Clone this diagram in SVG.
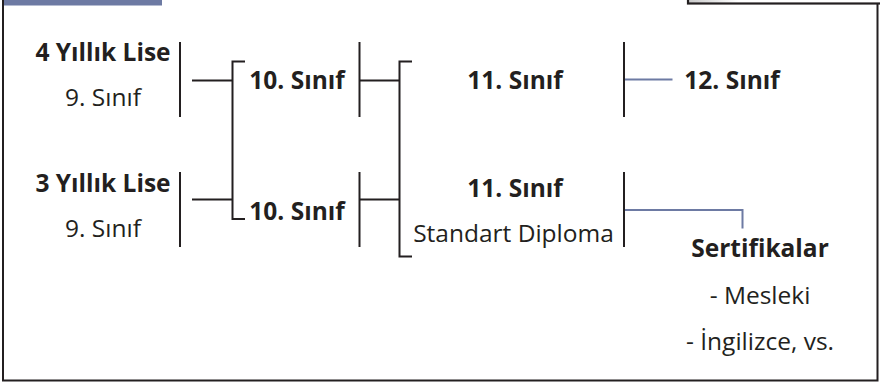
<svg xmlns="http://www.w3.org/2000/svg" width="880" height="383" viewBox="0 0 880 383">
<defs>
<linearGradient id="boxgrad" x1="0" y1="0" x2="1" y2="0">
<stop offset="0" stop-color="#c8c8c8"/>
<stop offset="0.25" stop-color="#ffffff"/>
<stop offset="1" stop-color="#ffffff"/>
</linearGradient>
<style>
text{font-family:"Open Sans","Noto Sans","DejaVu Sans",sans-serif;font-size:24.5px;fill:#231f20;text-anchor:middle}
.b{font-weight:bold}
.ln{fill:none;stroke:#231f20;stroke-width:2}
.bl{fill:none;stroke:#6d7aa3;stroke-width:2}
</style>
</defs>
<rect width="880" height="383" fill="#ffffff"/>
<g id="frame">
<path d="M3,-5 V380.5 H877.5 V-5" fill="none" stroke="#231f20" stroke-width="2"/>
<rect x="4" y="0" width="158" height="5.5" fill="#6d7aa3"/>
<rect x="688" y="-10" width="200" height="13.5" fill="url(#boxgrad)" stroke="#231f20" stroke-width="2.2"/>
</g>
<g id="connectors">
<line class="ln" x1="180" y1="42" x2="180" y2="117"/>
<line class="ln" x1="180" y1="172" x2="180" y2="247"/>
<line class="ln" x1="192" y1="80.5" x2="232.5" y2="80.5"/>
<line class="ln" x1="192" y1="199.5" x2="232.5" y2="199.5"/>
<path class="ln" d="M245,61.5 H232.5 V219 H245"/>
<line class="ln" x1="359.5" y1="42" x2="359.5" y2="117"/>
<line class="ln" x1="359.5" y1="172" x2="359.5" y2="247"/>
<line class="ln" x1="359.5" y1="80.5" x2="399.5" y2="80.5"/>
<line class="ln" x1="359.5" y1="199.5" x2="399.5" y2="199.5"/>
<path class="ln" d="M412,61.5 H399.5 V256.5 H412"/>
<line class="ln" x1="624" y1="42" x2="624" y2="117"/>
<line class="ln" x1="624" y1="172" x2="624" y2="247"/>
<line class="bl" x1="625" y1="79.5" x2="672.5" y2="79.5"/>
<path class="bl" d="M625,210 H742.5 V228.5"/>
</g>
<g id="lise4">
<text class="b" x="103" y="61">4 Yıllık Lise</text>
<text x="103" y="106">9. Sınıf</text>
</g>
<g id="lise3">
<text class="b" x="103" y="192">3 Yıllık Lise</text>
<text x="103" y="237">9. Sınıf</text>
</g>
<g id="sinif10a">
<text class="b" x="297" y="89">10. Sınıf</text>
</g>
<g id="sinif10b">
<text class="b" x="297" y="220">10. Sınıf</text>
</g>
<g id="sinif11a">
<text class="b" x="515" y="89">11. Sınıf</text>
</g>
<g id="sinif11b">
<text class="b" x="515" y="197">11. Sınıf</text>
<text x="513.5" y="242">Standart Diploma</text>
</g>
<g id="sinif12">
<text class="b" x="732" y="89">12. Sınıf</text>
</g>
<g id="sertifikalar">
<text class="b" x="760" y="257">Sertifikalar</text>
<text x="760" y="304">- Mesleki</text>
<text x="760" y="350">- İngilizce, vs.</text>
</g>
</svg>
